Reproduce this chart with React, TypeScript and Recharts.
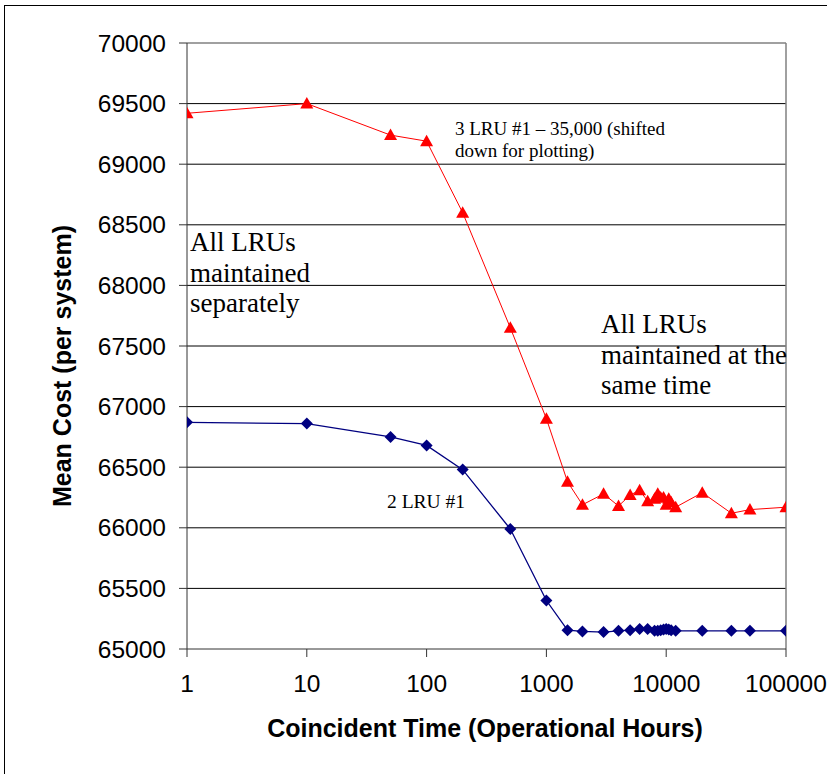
import React from 'react';
import {
  LineChart,
  Line,
  XAxis,
  YAxis,
  CartesianGrid,
  ReferenceLine,
} from 'recharts';

// coincident time in operational hours
const hours = [
  1, 10, 50, 100, 200, 500, 1000, 1500, 2000, 3000, 4000, 5000, 6000, 7000,
  8000, 8500, 9000, 9500, 10000, 10500, 11000, 12000, 20000, 35000, 50000, 100000,
];

// mean cost, 2 LRU #1
const lru2 = [
  66870, 66860, 66750, 66680, 66480, 65990, 65400, 65155, 65145, 65140, 65150,
  65155, 65165, 65165, 65150, 65150, 65155, 65160, 65165, 65160, 65155, 65150,
  65150, 65150, 65150, 65150,
];

// mean cost, 3 LRU #1 (less 35,000)
const lru3 = [
  69420, 69500, 69240, 69190, 68600, 67650, 66900, 66380, 66190, 66280, 66180,
  66270, 66310, 66220, 66240, 66280, 66250, 66250, 66190, 66240, 66210, 66170,
  66290, 66120, 66150, 66170,
];

const xTicks = [1, 10, 100, 1000, 10000, 100000];
const yTicks = [65000, 65500, 66000, 66500, 67000, 67500, 68000, 68500, 69000, 69500, 70000];

const rows = hours.map((h, i) => ({ hours: h, lru2: lru2[i], lru3: lru3[i] }));

const sans = '"Liberation Sans", Arial, sans-serif';
const serif = '"Liberation Serif", "Times New Roman", serif';

const Triangle = (props: any) => {
  const { cx, cy } = props;
  if (cx == null || cy == null) return null;
  return (
    <polygon
      points={`${cx},${cy - 6.5} ${cx + 6.5},${cy + 5} ${cx - 6.5},${cy + 5}`}
      fill="#ff0000"
      stroke="none"
    />
  );
};

const Diamond = (props: any) => {
  const { cx, cy } = props;
  if (cx == null || cy == null) return null;
  return (
    <polygon
      points={`${cx},${cy - 6} ${cx + 6},${cy} ${cx},${cy + 6} ${cx - 6},${cy}`}
      fill="#000080"
      stroke="none"
    />
  );
};

const note: React.CSSProperties = {
  position: 'absolute',
  fontFamily: serif,
  color: '#000',
  whiteSpace: 'nowrap',
};

export default function App() {
  return (
    <div
      style={{
        position: 'absolute',
        left: 0,
        top: 0,
        width: 827,
        height: 774,
        overflow: 'hidden',
        background: '#fff',
      }}
    >
      <div
        style={{
          position: 'absolute',
          left: 4,
          top: 5,
          width: 900,
          height: 900,
          border: '1px solid #000',
        }}
      />
      <LineChart
        width={827}
        height={774}
        data={rows}
        margin={{ top: 43, right: 41, left: 87, bottom: 65 }}
        style={{ position: 'absolute', left: 0, top: 0 }}
      >
        <CartesianGrid
          vertical={false}
          horizontalValues={[65500, 66000, 66500, 67000, 67500, 68000, 68500, 69000, 69500]}
          stroke="#000"
          strokeWidth={1}
        />
        <ReferenceLine y={70000} stroke="#808080" strokeWidth={1.5} />
        <ReferenceLine x={100000} stroke="#808080" strokeWidth={1.5} />
        <XAxis
          dataKey="hours"
          type="number"
          scale="log"
          domain={[1, 100000]}
          ticks={xTicks}
          allowDataOverflow
          height={60}
          tickSize={8}
          tickMargin={18}
          stroke="#333"
          tick={{ fill: '#000', fontSize: 24.5, fontFamily: sans }}
        />
        <YAxis
          type="number"
          domain={[65000, 70000]}
          ticks={yTicks}
          width={100}
          tickSize={8}
          tickMargin={13}
          stroke="#333"
          interval={0}
          tick={{ fill: '#000', fontSize: 24.5, fontFamily: sans }}
        />
        <Line
          dataKey="lru3"
          stroke="#ff0000"
          strokeWidth={1}
          dot={<Triangle />}
          activeDot={false}
          isAnimationActive={false}
        />
        <Line
          dataKey="lru2"
          stroke="#000080"
          strokeWidth={1.3}
          dot={<Diamond />}
          activeDot={false}
          isAnimationActive={false}
        />
      </LineChart>

      <div
        style={{
          position: 'absolute',
          left: 62,
          top: 366,
          transform: 'translate(-50%, -50%) rotate(-90deg)',
          fontFamily: sans,
          fontWeight: 'bold',
          fontSize: 25,
          whiteSpace: 'nowrap',
        }}
      >
        Mean Cost (per system)
      </div>
      <div
        style={{
          position: 'absolute',
          left: 485,
          top: 728,
          transform: 'translate(-50%, -50%)',
          fontFamily: sans,
          fontWeight: 'bold',
          fontSize: 25,
          whiteSpace: 'nowrap',
        }}
      >
        Coincident Time (Operational Hours)
      </div>

      <div style={{ ...note, left: 455, top: 118, fontSize: 19, lineHeight: '22px' }}>
        3 LRU #1 – 35,000 (shifted
        <br />
        down for plotting)
      </div>
      <div style={{ ...note, left: 190, top: 227, fontSize: 27, lineHeight: '30.5px' }}>
        All LRUs
        <br />
        maintained
        <br />
        separately
      </div>
      <div style={{ ...note, left: 601, top: 309, fontSize: 27, lineHeight: '30.5px' }}>
        All LRUs
        <br />
        maintained at the
        <br />
        same time
      </div>
      <div style={{ ...note, left: 387, top: 490, fontSize: 19.5, lineHeight: '23px' }}>
        2 LRU #1
      </div>
    </div>
  );
}
